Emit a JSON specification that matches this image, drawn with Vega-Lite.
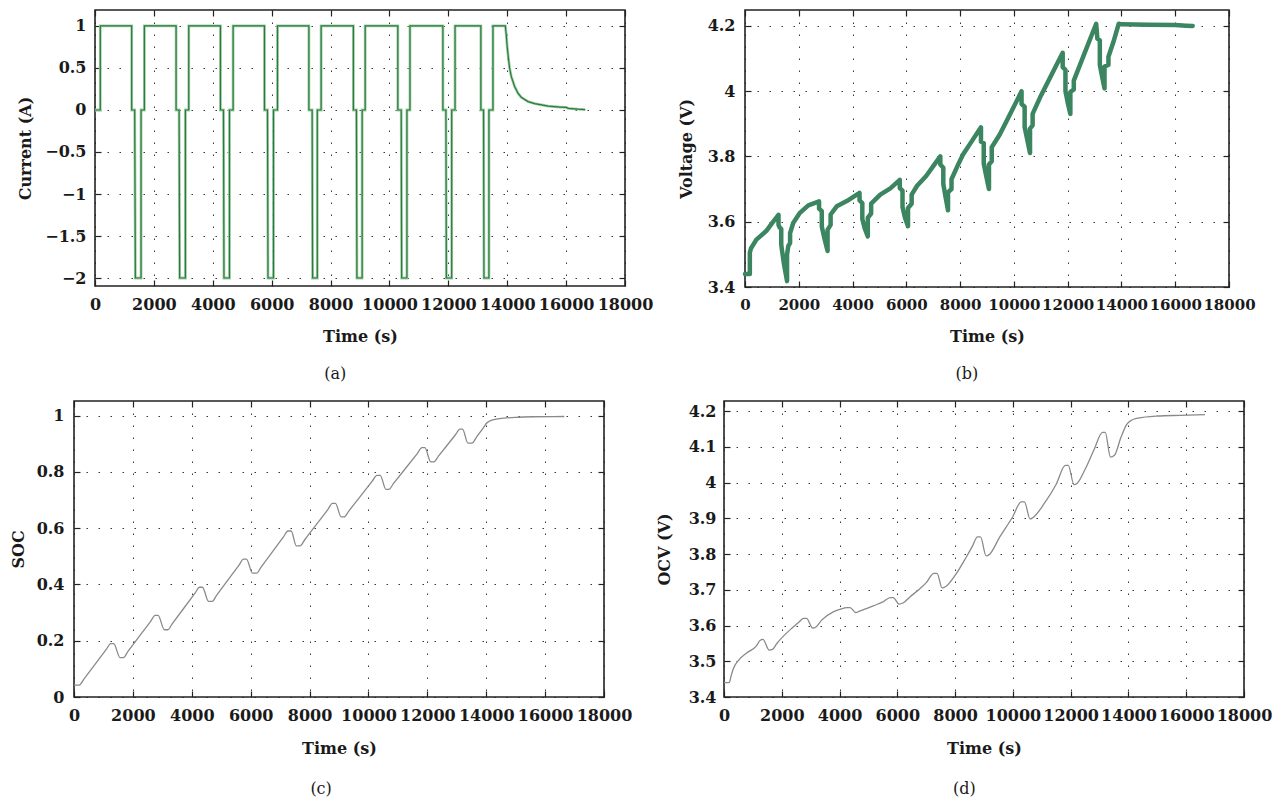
{
  "$schema": "https://vega.github.io/schema/vega-lite/v6.json",
  "padding": {"left": 9, "top": 8, "right": 0, "bottom": 5},
  "config": {
    "font": "DejaVu Serif",
    "view": {"stroke": "#222", "strokeWidth": 1.6},
    "axis": {
      "labelFont": "DejaVu Serif", "labelFontWeight": "bold", "labelFontSize": 16, "labelColor": "#1a1a1a",
      "titleFont": "DejaVu Serif", "titleFontWeight": "bold", "titleFontSize": 16, "titleColor": "#1a1a1a",
      "tickColor": "#222", "tickSize": -6, "tickWidth": 1.2, "domain": false,
      "gridColor": "#222", "gridDash": [1.5, 10.5], "gridWidth": 1, "gridOpacity": 0.9,
      "labelFlush": false, "labelOverlap": false
    },
    "axisX": {"format": "d"},
    "axisY": {"format": "~g"},
    "title": {"font": "DejaVu Serif", "fontWeight": "normal", "fontSize": 16, "color": "#1a1a1a", "orient": "bottom", "offset": 22, "frame": "bounds", "anchor": "middle"}
  },
  "datasets": {
    "cur": [
      {"t":0,"v":0},{"t":180,"v":0},{"t":180,"v":1},{"t":1246,"v":1},{"t":1246,"v":0},{"t":1348,"v":0},{"t":1371,"v":-2},{"t":1564,"v":-2},{"t":1564,"v":0},{"t":1677,"v":0},{"t":1677,"v":1},
      {"t":2754,"v":1},{"t":2754,"v":0},{"t":2856,"v":0},{"t":2875,"v":-2},{"t":3071,"v":-2},{"t":3071,"v":0},{"t":3184,"v":0},{"t":3184,"v":1},
      {"t":4261,"v":1},{"t":4261,"v":0},{"t":4363,"v":0},{"t":4380,"v":-2},{"t":4567,"v":-2},{"t":4567,"v":0},{"t":4691,"v":0},{"t":4691,"v":1},
      {"t":5756,"v":1},{"t":5756,"v":0},{"t":5858,"v":0},{"t":5875,"v":-2},{"t":6062,"v":-2},{"t":6062,"v":0},{"t":6198,"v":0},{"t":6198,"v":1},
      {"t":7264,"v":1},{"t":7264,"v":0},{"t":7375,"v":0},{"t":7390,"v":-2},{"t":7550,"v":-2},{"t":7550,"v":0},{"t":7680,"v":0},{"t":7680,"v":1},
      {"t":8776,"v":1},{"t":8776,"v":0},{"t":8879,"v":0},{"t":8895,"v":-2},{"t":9073,"v":-2},{"t":9073,"v":0},{"t":9176,"v":0},{"t":9176,"v":1},
      {"t":10285,"v":1},{"t":10285,"v":0},{"t":10400,"v":0},{"t":10415,"v":-2},{"t":10594,"v":-2},{"t":10594,"v":0},{"t":10697,"v":0},{"t":10697,"v":1},
      {"t":11815,"v":1},{"t":11815,"v":0},{"t":11918,"v":0},{"t":11933,"v":-2},{"t":12114,"v":-2},{"t":12114,"v":0},{"t":12228,"v":0},{"t":12228,"v":1},
      {"t":13105,"v":1},{"t":13105,"v":0},{"t":13196,"v":0},{"t":13210,"v":-2},{"t":13379,"v":-2},{"t":13379,"v":0},{"t":13516,"v":0},{"t":13516,"v":1},
      {"t":13936,"v":1},{"t":13966,"v":0.9},{"t":14000,"v":0.75},{"t":14040,"v":0.62},{"t":14080,"v":0.5},{"t":14137,"v":0.4},{"t":14251,"v":0.28},{"t":14365,"v":0.2},{"t":14479,"v":0.15},{"t":14708,"v":0.1},{"t":14936,"v":0.075},{"t":15393,"v":0.045},{"t":15800,"v":0.035},{"t":16000,"v":0.03},{"t":16078,"v":0.02},{"t":16400,"v":0.01},{"t":16650,"v":0.005}
    ],
    "volt": [
      {"t":0,"v":3.44},{"t":180,"v":3.44},{"t":180,"v":3.505},{"t":220,"v":3.518},{"t":423,"v":3.545},{"t":797,"v":3.572},{"t":1000,"v":3.595},{"t":1246,"v":3.621},
      {"t":1246,"v":3.59},{"t":1290,"v":3.582},{"t":1348,"v":3.578},{"t":1348,"v":3.53},{"t":1371,"v":3.515},{"t":1450,"v":3.47},{"t":1564,"v":3.418},
      {"t":1564,"v":3.5},{"t":1610,"v":3.525},{"t":1677,"v":3.535},{"t":1677,"v":3.565},{"t":1793,"v":3.596},{"t":2042,"v":3.627},{"t":2354,"v":3.65},{"t":2754,"v":3.662},
      {"t":2754,"v":3.64},{"t":2856,"v":3.632},{"t":2856,"v":3.585},{"t":2950,"v":3.55},{"t":3071,"v":3.51},
      {"t":3071,"v":3.575},{"t":3184,"v":3.59},{"t":3184,"v":3.622},{"t":3412,"v":3.647},{"t":3786,"v":3.663},{"t":4259,"v":3.688},
      {"t":4261,"v":3.665},{"t":4363,"v":3.657},{"t":4363,"v":3.608},{"t":4450,"v":3.58},{"t":4567,"v":3.555},
      {"t":4567,"v":3.612},{"t":4691,"v":3.625},{"t":4691,"v":3.655},{"t":5031,"v":3.683},{"t":5405,"v":3.702},{"t":5756,"v":3.728},
      {"t":5756,"v":3.703},{"t":5858,"v":3.695},{"t":5858,"v":3.645},{"t":5950,"v":3.612},{"t":6062,"v":3.586},
      {"t":6062,"v":3.642},{"t":6198,"v":3.655},{"t":6198,"v":3.683},{"t":6400,"v":3.71},{"t":6738,"v":3.74},{"t":7000,"v":3.77},{"t":7264,"v":3.8},
      {"t":7264,"v":3.775},{"t":7375,"v":3.765},{"t":7375,"v":3.715},{"t":7450,"v":3.68},{"t":7550,"v":3.635},
      {"t":7550,"v":3.69},{"t":7680,"v":3.7},{"t":7680,"v":3.73},{"t":7900,"v":3.77},{"t":8103,"v":3.805},{"t":8400,"v":3.842},{"t":8776,"v":3.889},
      {"t":8776,"v":3.845},{"t":8879,"v":3.84},{"t":8879,"v":3.778},{"t":8970,"v":3.74},{"t":9073,"v":3.7},
      {"t":9073,"v":3.775},{"t":9176,"v":3.785},{"t":9176,"v":3.828},{"t":9470,"v":3.866},{"t":9800,"v":3.92},{"t":10285,"v":3.999},
      {"t":10285,"v":3.96},{"t":10400,"v":3.952},{"t":10400,"v":3.89},{"t":10500,"v":3.85},{"t":10600,"v":3.81},
      {"t":10600,"v":3.885},{"t":10697,"v":3.895},{"t":10697,"v":3.93},{"t":11000,"v":3.985},{"t":11400,"v":4.05},{"t":11815,"v":4.117},
      {"t":11815,"v":4.073},{"t":11918,"v":4.065},{"t":11918,"v":4.0},{"t":12000,"v":3.965},{"t":12100,"v":3.93},
      {"t":12100,"v":3.997},{"t":12228,"v":4.005},{"t":12228,"v":4.032},{"t":12600,"v":4.11},{"t":13060,"v":4.206},
      {"t":13105,"v":4.16},{"t":13196,"v":4.155},{"t":13196,"v":4.08},{"t":13290,"v":4.04},{"t":13370,"v":4.008},
      {"t":13370,"v":4.075},{"t":13516,"v":4.08},{"t":13516,"v":4.105},{"t":13700,"v":4.15},{"t":13900,"v":4.206},
      {"t":14000,"v":4.204},{"t":15000,"v":4.203},{"t":16000,"v":4.202},{"t":16400,"v":4.2},{"t":16650,"v":4.199}
    ],
    "soc": [
      {"t":0,"v":0.042},{"t":180,"v":0.042},{"t":330,"v":0.063},{"t":1096,"v":0.169},{"t":1246,"v":0.19},{"t":1348,"v":0.19},{"t":1564,"v":0.14},{"t":1677,"v":0.14},
      {"t":1827,"v":0.161},{"t":2604,"v":0.269},{"t":2754,"v":0.29},{"t":2856,"v":0.29},{"t":3071,"v":0.239},{"t":3184,"v":0.239},
      {"t":3334,"v":0.26},{"t":4111,"v":0.369},{"t":4261,"v":0.39},{"t":4363,"v":0.39},{"t":4567,"v":0.34},{"t":4691,"v":0.34},
      {"t":4841,"v":0.361},{"t":5606,"v":0.469},{"t":5756,"v":0.49},{"t":5858,"v":0.49},{"t":6062,"v":0.44},{"t":6198,"v":0.44},
      {"t":6348,"v":0.461},{"t":7114,"v":0.569},{"t":7264,"v":0.59},{"t":7375,"v":0.59},{"t":7550,"v":0.537},{"t":7680,"v":0.537},
      {"t":7830,"v":0.558},{"t":8626,"v":0.667},{"t":8776,"v":0.688},{"t":8879,"v":0.688},{"t":9073,"v":0.64},{"t":9176,"v":0.64},
      {"t":9326,"v":0.66},{"t":10135,"v":0.768},{"t":10285,"v":0.788},{"t":10400,"v":0.788},{"t":10594,"v":0.738},{"t":10697,"v":0.738},
      {"t":10847,"v":0.758},{"t":11665,"v":0.866},{"t":11815,"v":0.886},{"t":11918,"v":0.886},{"t":12114,"v":0.836},{"t":12228,"v":0.836},
      {"t":12378,"v":0.856},{"t":12955,"v":0.932},{"t":13105,"v":0.952},{"t":13196,"v":0.952},{"t":13379,"v":0.902},{"t":13516,"v":0.902},
      {"t":13666,"v":0.923},{"t":13936,"v":0.962},{"t":14000,"v":0.972},{"t":14100,"v":0.98},{"t":14300,"v":0.987},{"t":14600,"v":0.991},{"t":15000,"v":0.994},{"t":15600,"v":0.996},{"t":16650,"v":0.997}
    ],
    "ocv": [
      {"t":0,"v":3.44},{"t":180,"v":3.44},{"t":250,"v":3.46},{"t":323,"v":3.479},{"t":496,"v":3.502},{"t":784,"v":3.523},{"t":1130,"v":3.544},{"t":1246,"v":3.558},{"t":1348,"v":3.561},
      {"t":1564,"v":3.531},{"t":1677,"v":3.533},{"t":1822,"v":3.549},{"t":2399,"v":3.596},{"t":2600,"v":3.61},{"t":2754,"v":3.62},{"t":2856,"v":3.62},
      {"t":3071,"v":3.593},{"t":3184,"v":3.596},{"t":3380,"v":3.615},{"t":3783,"v":3.638},{"t":4014,"v":3.645},{"t":4261,"v":3.65},{"t":4363,"v":3.65},
      {"t":4567,"v":3.636},{"t":4691,"v":3.64},{"t":4850,"v":3.645},{"t":5167,"v":3.655},{"t":5500,"v":3.666},{"t":5756,"v":3.678},{"t":5858,"v":3.678},
      {"t":6062,"v":3.66},{"t":6198,"v":3.663},{"t":6436,"v":3.68},{"t":6782,"v":3.703},{"t":7001,"v":3.72},{"t":7264,"v":3.746},{"t":7375,"v":3.746},
      {"t":7550,"v":3.705},{"t":7680,"v":3.709},{"t":8000,"v":3.74},{"t":8384,"v":3.791},{"t":8600,"v":3.822},{"t":8776,"v":3.848},{"t":8879,"v":3.848},
      {"t":9073,"v":3.795},{"t":9176,"v":3.798},{"t":9547,"v":3.848},{"t":10000,"v":3.905},{"t":10285,"v":3.946},{"t":10400,"v":3.946},
      {"t":10594,"v":3.898},{"t":10697,"v":3.902},{"t":11093,"v":3.942},{"t":11500,"v":3.995},{"t":11815,"v":4.048},{"t":11918,"v":4.048},
      {"t":12114,"v":3.994},{"t":12228,"v":3.998},{"t":12488,"v":4.035},{"t":12800,"v":4.09},{"t":13105,"v":4.14},{"t":13196,"v":4.14},
      {"t":13379,"v":4.071},{"t":13516,"v":4.076},{"t":13744,"v":4.127},{"t":13936,"v":4.162},{"t":14100,"v":4.174},{"t":14326,"v":4.18},{"t":15000,"v":4.186},{"t":15800,"v":4.188},{"t":16650,"v":4.19}
    ]
  },
  "spacing": 16,
  "vconcat": [
    {
      "hconcat": [
        {
          "width": 21, "height": 10,
          "view": {"stroke": null},
          "data": {"values": []},
          "mark": {"type": "point", "opacity": 0},
          "encoding": {}
        },
        {
          "hconcat": [
            {
              "width": 530, "height": 276,
              "title": {"text": "(a)"},
              "layer": [
                {
                  "data": {"name": "cur"},
                  "mark": {"type": "line", "color": "#a3cfab", "strokeWidth": 2.8},
                  "encoding": {
                    "x": {"field": "t", "type": "quantitative", "scale": {"domain": [0, 18000], "nice": false, "zero": false}, "axis": null},
                    "y": {"field": "v", "type": "quantitative", "scale": {"domain": [-2.095, 1.19], "nice": false, "zero": false}, "axis": null},
                    "order": {"value": null}
                  }
                },
                {
                  "data": {"name": "cur"},
                  "mark": {"type": "line", "color": "#2a7a3a", "strokeWidth": 1.2},
                  "encoding": {
                    "x": {"field": "t", "type": "quantitative", "scale": {"domain": [0, 18000], "nice": false, "zero": false},
                          "axis": {"orient": "bottom", "title": "Time (s)", "values": [0,2000,4000,6000,8000,10000,12000,14000,16000,18000], "grid": true, "labelPadding": 16, "titlePadding": 16}},
                    "y": {"field": "v", "type": "quantitative", "scale": {"domain": [-2.095, 1.19], "nice": false, "zero": false},
                          "axis": {"orient": "left", "title": "Current (A)", "values": [-2,-1.5,-1,-0.5,0,0.5,1], "grid": true, "labelPadding": 15, "titlePadding": 11.2}},
                    "order": {"value": null}
                  }
                },
                {
                  "data": {"name": "cur"},
                  "mark": {"type": "line", "strokeOpacity": 0},
                  "encoding": {
                    "x": {"field": "t", "type": "quantitative", "scale": {"domain": [0, 18000], "nice": false, "zero": false},
                          "axis": {"orient": "top", "title": null, "labels": false, "grid": false, "values": [0,2000,4000,6000,8000,10000,12000,14000,16000,18000]}},
                    "y": {"field": "v", "type": "quantitative", "scale": {"domain": [-2.095, 1.19], "nice": false, "zero": false},
                          "axis": {"orient": "right", "title": null, "labels": false, "grid": false, "values": [-2,-1.5,-1,-0.5,0,0.5,1]}},
                    "order": {"value": null}
                  }
                }
              ],
              "resolve": {"axis": {"x": "independent", "y": "independent"}}
            },
            {
              "width": 484, "height": 277,
              "title": {"text": "(b)"},
              "layer": [
                {
                  "data": {"name": "volt"},
                  "mark": {"type": "line", "color": "#3b8560", "strokeWidth": 4.5, "strokeJoin": "round", "strokeCap": "round"},
                  "encoding": {
                    "x": {"field": "t", "type": "quantitative", "scale": {"domain": [0, 18000], "nice": false, "zero": false},
                          "axis": {"orient": "bottom", "title": "Time (s)", "labelFontSize": 15, "values": [0,2000,4000,6000,8000,10000,12000,14000,16000,18000], "grid": true, "labelPadding": 16, "titlePadding": 16}},
                    "y": {"field": "v", "type": "quantitative", "scale": {"domain": [3.4, 4.248], "nice": false, "zero": false},
                          "axis": {"orient": "left", "title": "Voltage (V)", "values": [3.4,3.6,3.8,4,4.2], "grid": true, "labelPadding": 16, "titlePadding": 12.3}},
                    "order": {"value": null}
                  }
                },
                {
                  "data": {"name": "volt"},
                  "mark": {"type": "line", "strokeOpacity": 0},
                  "encoding": {
                    "x": {"field": "t", "type": "quantitative", "scale": {"domain": [0, 18000], "nice": false, "zero": false},
                          "axis": {"orient": "top", "title": null, "labels": false, "grid": false, "values": [0,2000,4000,6000,8000,10000,12000,14000,16000,18000]}},
                    "y": {"field": "v", "type": "quantitative", "scale": {"domain": [3.4, 4.248], "nice": false, "zero": false},
                          "axis": {"orient": "right", "title": null, "labels": false, "grid": false, "values": [3.4,3.6,3.8,4,4.2]}},
                    "order": {"value": null}
                  }
                }
              ],
              "resolve": {"axis": {"x": "independent", "y": "independent"}}
            }
          ],
          "spacing": 120,
          "bounds": "flush"
        }
      ],
      "spacing": 0,
      "bounds": "flush"
    },
    {
      "hconcat": [
        {
          "width": 530, "height": 296,
          "title": {"text": "(c)", "offset": 25},
          "layer": [
            {
              "data": {"name": "soc"},
              "mark": {"type": "line", "color": "#8a8a8a", "strokeWidth": 1.3, "interpolate": "monotone"},
              "encoding": {
                "x": {"field": "t", "type": "quantitative", "scale": {"domain": [0, 18000], "nice": false, "zero": false},
                      "axis": {"orient": "bottom", "title": "Time (s)", "values": [0,2000,4000,6000,8000,10000,12000,14000,16000,18000], "grid": true, "labelPadding": 16, "titlePadding": 17}},
                "y": {"field": "v", "type": "quantitative", "scale": {"domain": [0, 1.052], "nice": false, "zero": false},
                      "axis": {"orient": "left", "title": "SOC", "values": [0,0.2,0.4,0.6,0.8,1], "grid": true, "labelPadding": 16, "titlePadding": 9.8}},
                "order": {"value": null}
              }
            },
            {
              "data": {"name": "soc"},
              "mark": {"type": "line", "strokeOpacity": 0},
              "encoding": {
                "x": {"field": "t", "type": "quantitative", "scale": {"domain": [0, 18000], "nice": false, "zero": false},
                      "axis": {"orient": "top", "title": null, "labels": false, "grid": false, "values": [0,2000,4000,6000,8000,10000,12000,14000,16000,18000]}},
                "y": {"field": "v", "type": "quantitative", "scale": {"domain": [0, 1.052], "nice": false, "zero": false},
                      "axis": {"orient": "right", "title": null, "labels": false, "grid": false, "values": [0,0.2,0.4,0.6,0.8,1]}},
                "order": {"value": null}
              }
            }
          ],
          "resolve": {"axis": {"x": "independent", "y": "independent"}}
        },
        {
          "width": 520, "height": 296,
          "title": {"text": "(d)", "offset": 25},
          "layer": [
            {
              "data": {"name": "ocv"},
              "mark": {"type": "line", "color": "#8a8a8a", "strokeWidth": 1.3, "interpolate": "monotone"},
              "encoding": {
                "x": {"field": "t", "type": "quantitative", "scale": {"domain": [0, 18000], "nice": false, "zero": false},
                      "axis": {"orient": "bottom", "title": "Time (s)", "values": [0,2000,4000,6000,8000,10000,12000,14000,16000,18000], "grid": true, "labelPadding": 16, "titlePadding": 17}},
                "y": {"field": "v", "type": "quantitative", "scale": {"domain": [3.4, 4.228], "nice": false, "zero": false},
                      "axis": {"orient": "left", "title": "OCV (V)", "values": [3.4,3.5,3.6,3.7,3.8,3.9,4,4.1,4.2], "grid": true, "labelPadding": 14, "titlePadding": 15.3}},
                "order": {"value": null}
              }
            },
            {
              "data": {"name": "ocv"},
              "mark": {"type": "line", "strokeOpacity": 0},
              "encoding": {
                "x": {"field": "t", "type": "quantitative", "scale": {"domain": [0, 18000], "nice": false, "zero": false},
                      "axis": {"orient": "top", "title": null, "labels": false, "grid": false, "values": [0,2000,4000,6000,8000,10000,12000,14000,16000,18000]}},
                "y": {"field": "v", "type": "quantitative", "scale": {"domain": [3.4, 4.228], "nice": false, "zero": false},
                      "axis": {"orient": "right", "title": null, "labels": false, "grid": false, "values": [3.4,3.5,3.6,3.7,3.8,3.9,4,4.1,4.2]}},
                "order": {"value": null}
              }
            }
          ],
          "resolve": {"axis": {"x": "independent", "y": "independent"}}
        }
      ],
      "spacing": 120,
      "bounds": "flush"
    }
  ]
}
